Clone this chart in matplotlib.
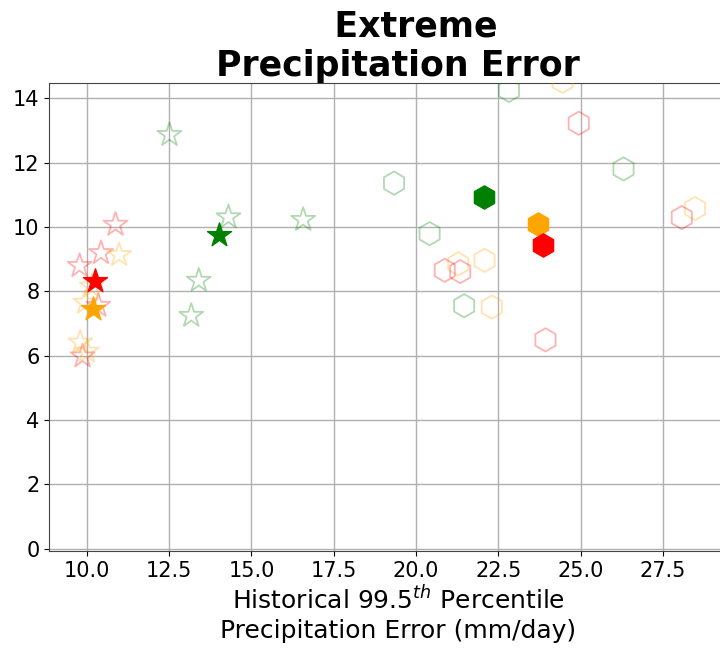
import matplotlib
matplotlib.use('Agg')
import matplotlib.pyplot as plt

# --- datos ---
# estrellas (un grupo por color: 5 miembros huecos + media rellena)
star_green_x = [12.51, 14.30, 16.57, 13.40, 13.17]
star_green_y = [12.86, 10.30, 10.22, 8.33, 7.24]
star_green_mean = (14.00, 9.75)

star_red_x = [10.87, 10.43, 9.78, 10.35, 9.87]
star_red_y = [10.07, 9.19, 8.79, 7.55, 5.98]
star_red_mean = (10.25, 8.33)

star_orange_x = [10.98, 10.15, 9.95, 9.80, 10.00]
star_orange_y = [9.13, 8.15, 7.65, 6.41, 6.13]
star_orange_mean = (10.20, 7.45)

# hexagonos
hex_green_x = [22.82, 26.30, 19.33, 20.41, 21.46]
hex_green_y = [14.24, 11.80, 11.36, 9.79, 7.55]
hex_green_mean = (22.06, 10.93)

hex_orange_x = [24.45, 28.47, 22.08, 21.28, 22.30]
hex_orange_y = [14.52, 10.57, 8.96, 8.85, 7.51]
hex_orange_mean = (23.71, 10.10)

hex_red_x = [24.94, 28.07, 20.87, 21.34, 23.93]
hex_red_y = [13.22, 10.29, 8.65, 8.61, 6.49]
hex_red_mean = (23.85, 9.45)

fig = plt.figure(figsize=(7.2, 6.51), dpi=100)
ax = fig.add_axes([0.0685, 0.1536, 0.969, 0.7194])

S = 330
LW = 1.3
ALPHA = 0.3

groups = [
    ('*', 'green', star_green_x, star_green_y, star_green_mean),
    ('*', 'red', star_red_x, star_red_y, star_red_mean),
    ('*', 'orange', star_orange_x, star_orange_y, star_orange_mean),
    ('h', 'green', hex_green_x, hex_green_y, hex_green_mean),
    ('h', 'orange', hex_orange_x, hex_orange_y, hex_orange_mean),
    ('h', 'red', hex_red_x, hex_red_y, hex_red_mean),
]

for marker, color, xs, ys, mean in groups:
    size = S if marker == '*' else S * 0.85
    ax.scatter(xs, ys, marker=marker, s=size, facecolors='none',
               edgecolors=color, linewidths=LW, alpha=ALPHA, zorder=3)

for marker, color, xs, ys, mean in groups:
    size = S if marker == '*' else S * 0.85
    ax.scatter([mean[0]], [mean[1]], marker=marker, s=size, color=color,
               zorder=4)

ax.set_xlim(8.86, 30.05)
ax.set_ylim(-0.07, 14.48)
ax.set_xticks([10.0, 12.5, 15.0, 17.5, 20.0, 22.5, 25.0, 27.5])
ax.set_yticks([0, 2, 4, 6, 8, 10, 12, 14])
ax.tick_params(labelsize=15)
ax.grid(True, color='#b0b0b0', linewidth=1)
ax.set_axisbelow(True)
for sp in ax.spines.values():
    sp.set_color('#444444')

ax.set_title('   Extreme\nPrecipitation Error', fontsize=25, fontweight='bold',
             pad=5)
ax.set_xlabel('Historical 99.5$^{th}$ Percentile\nPrecipitation Error (mm/day)',
              fontsize=18)

fig.savefig('out.png', dpi=100)
